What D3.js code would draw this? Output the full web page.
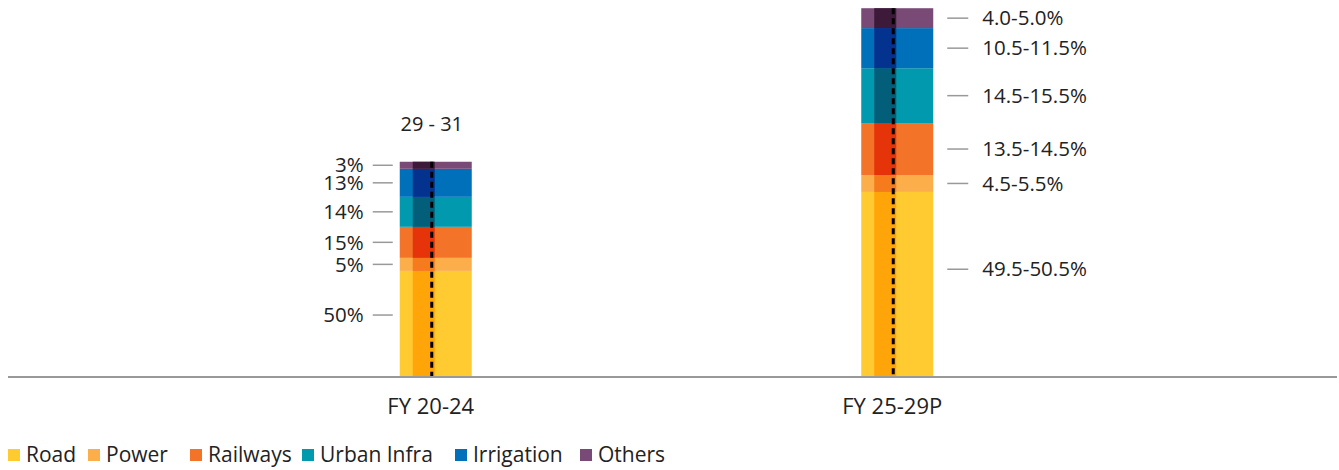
<!DOCTYPE html>
<html>
<head>
<meta charset="utf-8">
<script src="https://cdn.jsdelivr.net/npm/d3@7"></script>
<style>
  body { margin: 0; background: #fff; }
  svg text { font-family: "Open Sans", "Noto Sans", sans-serif; fill: #222; }
</style>
</head>
<body>
<script>
var width = 1339, height = 470;

// data
var categories = ["FY 20-24", "FY 25-29P"];
var segments = ["Road", "Power", "Railways", "Urban Infra", "Irrigation", "Others"];
var totals = [30, 51.6];
var shares2024 = [49.1, 6.1, 14.5, 14.0, 13.1, 3.3];
var shares2029 = [50.0, 4.6, 14.1, 14.9, 10.9, 5.4];
var labels2024 = ["50%", "5%", "15%", "14%", "13%", "3%"];
var labels2029 = ["49.5-50.5%", "4.5-5.5%", "13.5-14.5%", "14.5-15.5%", "10.5-11.5%", "4.0-5.0%"];
var totalLabels = ["29 - 31", ""];

var colors = ["#FFCB31", "#FBAE4A", "#F37329", "#0099AE", "#0070BA", "#7A4A77"];
var darkColors = ["#FFA50A", "#F57B1C", "#E5330A", "#035F79", "#03328F", "#3D1A3A"];

var sharesByCat = [shares2024, shares2029];
var labelsByCat = [labels2024, labels2029];

var svg = d3.select("body").append("svg")
    .attr("width", width)
    .attr("height", height);

var x = d3.scaleBand()
    .domain(categories)
    .range([205, 1128]);

var y = d3.scaleLinear()
    .domain([0, 52.7])
    .range([376, 0]);

var barW = 72, darkOff = 13, darkW = 22, dashOff = 32;

categories.forEach(function (cat, ci) {
    var total = totals[ci];
    var shares = sharesByCat[ci];
    var cx = x(cat) + x.bandwidth() / 2;
    var left = cx - barW / 2;
    var acc = 0;
    var segs = shares.map(function (s, i) {
        var v = total * s / 100;
        var d = { i: i, y0: acc, y1: acc + v, label: labelsByCat[ci][i] };
        acc += v;
        return d;
    });

    var g = svg.append("g").attr("class", "bar");

    g.selectAll("rect.wide")
        .data(segs)
        .enter().append("rect")
        .attr("class", "wide")
        .attr("x", left)
        .attr("width", barW)
        .attr("y", function (d) { return y(d.y1); })
        .attr("height", function (d) { return y(d.y0) - y(d.y1); })
        .attr("fill", function (d) { return colors[d.i]; });

    g.selectAll("rect.dark")
        .data(segs)
        .enter().append("rect")
        .attr("class", "dark")
        .attr("x", left + darkOff)
        .attr("width", darkW)
        .attr("y", function (d) { return y(d.y1); })
        .attr("height", function (d) { return y(d.y0) - y(d.y1); })
        .attr("fill", function (d) { return darkColors[d.i]; });

    g.append("line")
        .attr("x1", left + dashOff)
        .attr("x2", left + dashOff)
        .attr("y1", y(acc))
        .attr("y2", y(0))
        .attr("stroke", "#000")
        .attr("stroke-width", 3)
        .attr("stroke-dasharray", "6,4");

    // label positions: middle of segment, bottom segment sits a bit higher
    var labY = function (d) {
        if (d.i === 0) return y(d.y0 + (d.y1 - d.y0) * 0.58);
        return y((d.y0 + d.y1) / 2);
    };

    var onLeft = ci === 0;
    var lx1 = onLeft ? left - 27 : left + barW + 14;
    var lx2 = onLeft ? left - 7 : left + barW + 35;

    g.selectAll("line.lead")
        .data(segs)
        .enter().append("line")
        .attr("class", "lead")
        .attr("x1", lx1).attr("x2", lx2)
        .attr("y1", labY).attr("y2", labY)
        .attr("stroke", "#999")
        .attr("stroke-width", 1.5);

    g.selectAll("text.lab")
        .data(segs)
        .enter().append("text")
        .attr("class", "lab")
        .attr("x", onLeft ? lx1 - 9 : lx2 + 14)
        .attr("y", labY)
        .attr("dy", "0.35em")
        .attr("text-anchor", onLeft ? "end" : "start")
        .style("font-size", "20.5px")
        .text(function (d) { return d.label; });

    if (totalLabels[ci]) {
        g.append("text")
            .attr("x", cx - 4)
            .attr("y", y(acc) - 38)
            .attr("dy", "0.35em")
            .attr("text-anchor", "middle")
            .style("font-size", "20px")
            .text(totalLabels[ci]);
    }

    g.append("text")
        .attr("x", cx - 5)
        .attr("y", 406)
        .attr("dy", "0.35em")
        .attr("text-anchor", "middle")
        .style("font-size", "22px")
        .text(cat);
});

// baseline
svg.append("line")
    .attr("x1", 8).attr("x2", 1337)
    .attr("y1", y(0) + 1).attr("y2", y(0) + 1)
    .attr("stroke", "#999")
    .attr("stroke-width", 2);

// legend
var legendX = [8, 88, 190, 302, 455, 580];
var legend = svg.append("g").attr("class", "legend");
segments.forEach(function (s, i) {
    legend.append("rect")
        .attr("x", legendX[i])
        .attr("y", 449)
        .attr("width", 12)
        .attr("height", 12)
        .attr("fill", colors[i]);
    legend.append("text")
        .attr("x", legendX[i] + 18)
        .attr("y", 455)
        .attr("dy", "0.35em")
        .style("font-size", "21px")
        .text(s);
});
</script>
</body>
</html>
